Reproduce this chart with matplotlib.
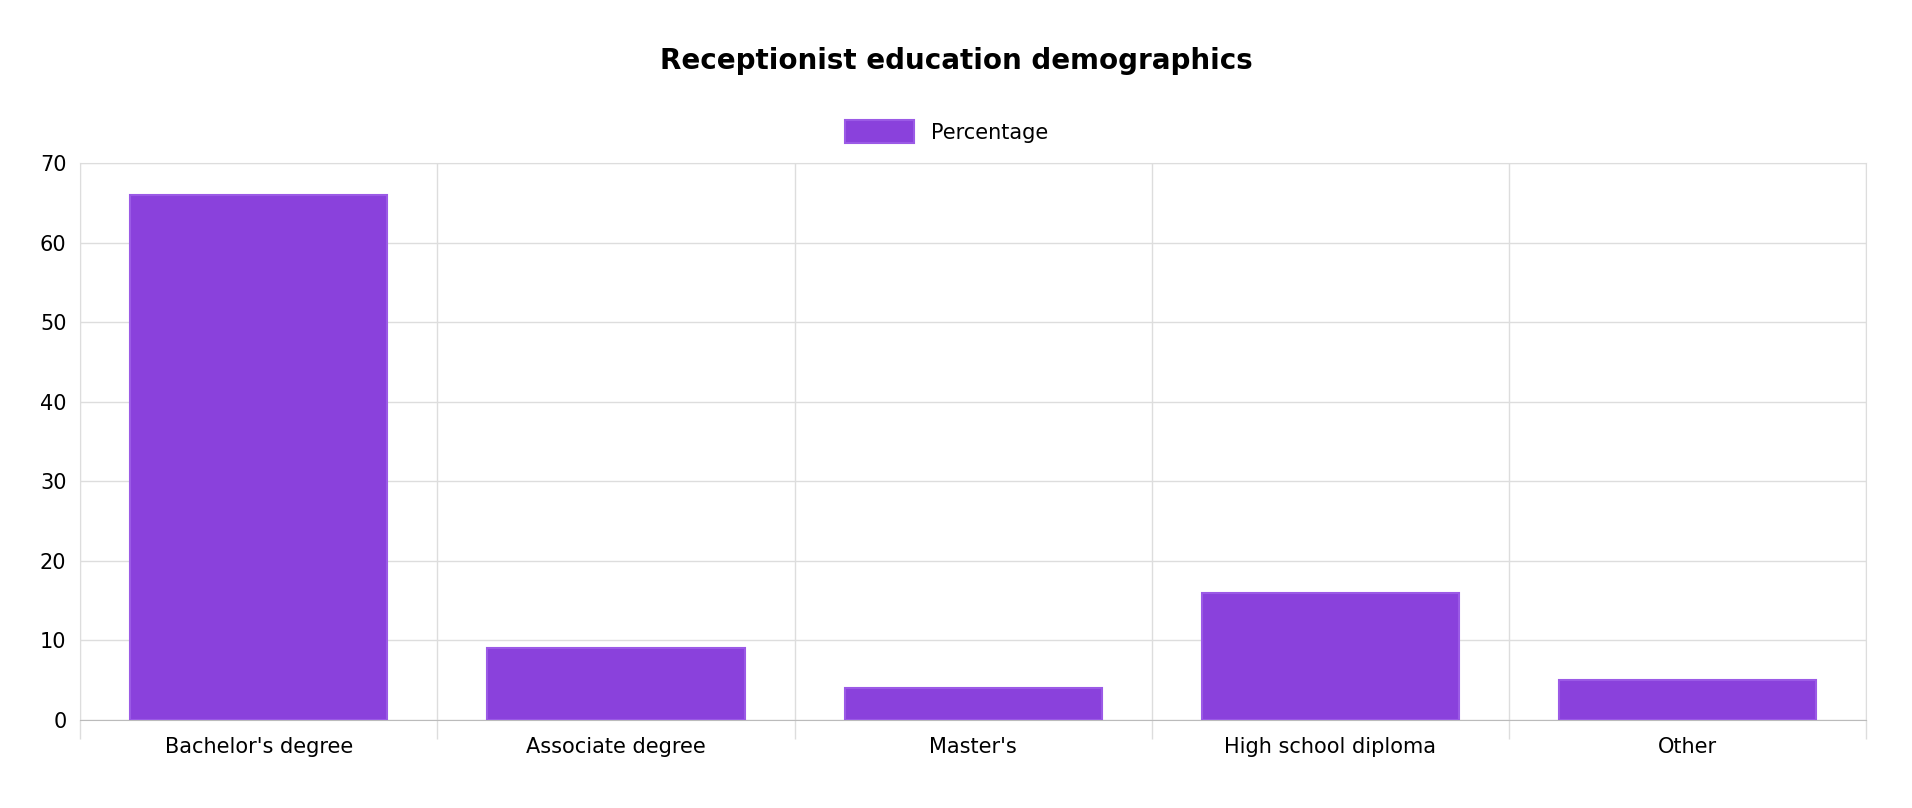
import matplotlib
matplotlib.use("Agg")
import matplotlib.pyplot as plt

categories = ["Bachelor's degree", "Associate degree", "Master's", "High school diploma", "Other"]
percentages = [66, 9, 4, 16, 5]
y_ticks = [0, 10, 20, 30, 40, 50, 60, 70]

fig = plt.figure(figsize=(19.12, 8.08), dpi=100)
ax = fig.add_axes([0.042, 0.109, 0.934, 0.689])

x = list(range(len(categories)))
ax.bar(x, percentages, width=0.72, color="#8a41dc", edgecolor="#9b5ae6", linewidth=1.5,
       label="Percentage", zorder=3)

ax.set_xlim(-0.5, len(categories) - 0.5)
ax.set_ylim(0, 70)
ax.set_yticks(y_ticks)
ax.set_xticks(x)
ax.set_xticklabels(categories, fontsize=15)
ax.tick_params(axis="y", labelsize=15, length=0, pad=10)
ax.tick_params(axis="x", length=0, pad=12)

# vertical grid lines at category boundaries, extending below the axis
ax.set_xticks([i - 0.5 for i in range(len(categories) + 1)], minor=True)
ax.tick_params(axis="x", which="minor", length=14, color="#dddddd", width=1)
ax.grid(True, which="minor", axis="x", color="#dddddd", linewidth=1, zorder=0)
ax.grid(True, which="major", axis="y", color="#dddddd", linewidth=1, zorder=0)
for s in ax.spines.values():
    s.set_color("#dddddd")
ax.spines["bottom"].set_color("#bbbbbb")

fig.text(0.5, 0.925, "Receptionist education demographics", ha="center", va="center",
         fontsize=20, fontweight="bold")
fig.legend(loc="center", bbox_to_anchor=(0.495, 0.837), frameon=False, fontsize=15,
           handlelength=3.3, handleheight=1.3)

fig.savefig("out.png", dpi=100)
